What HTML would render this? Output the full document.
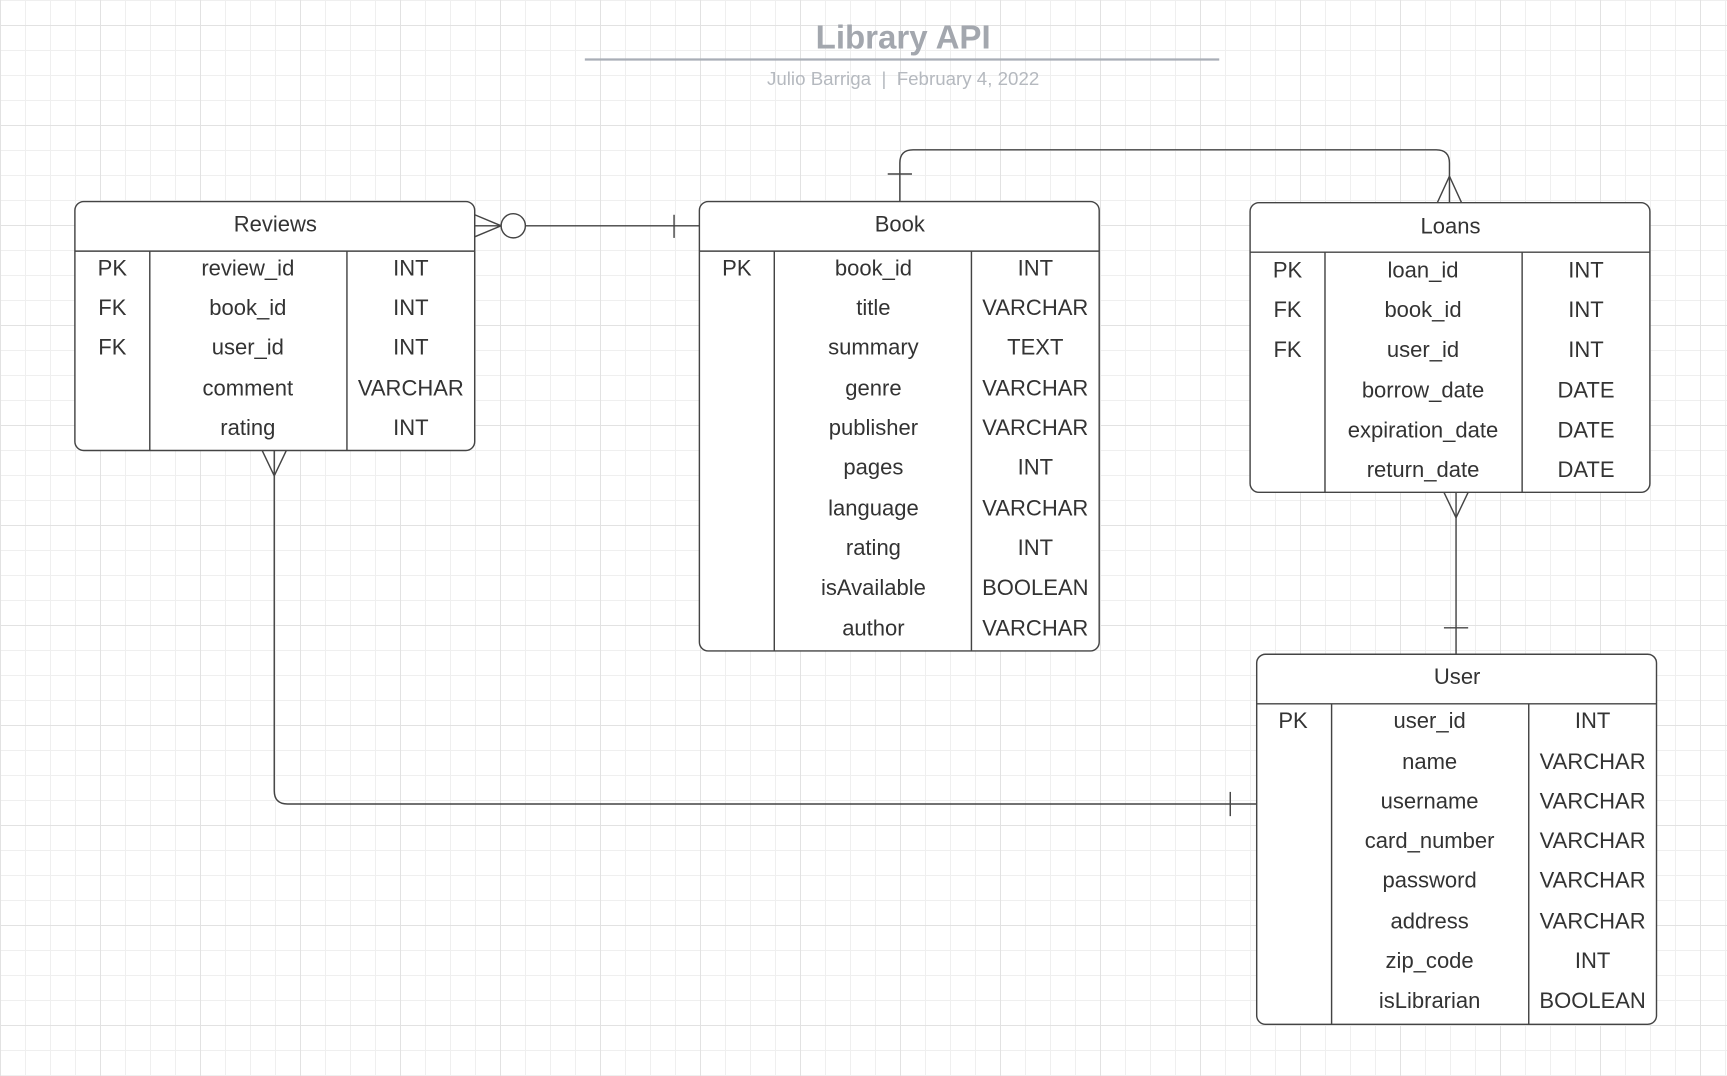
<!DOCTYPE html>
<html><head><meta charset="utf-8"><style>
html,body{margin:0;padding:0;background:#fff;}
svg{display:block;}
text{font-family:"Liberation Sans",Arial,sans-serif;}
</style></head><body>
<svg width="1727" height="1076" viewBox="0 0 1727 1076" xmlns="http://www.w3.org/2000/svg">
<defs>
<pattern id="g" width="25" height="25" patternUnits="userSpaceOnUse"><path d="M0.5 0V25M0 0.5H25" stroke="#efefef" stroke-width="1" fill="none"/></pattern>
<pattern id="G" width="100" height="100" patternUnits="userSpaceOnUse" x="0" y="25"><path d="M0.5 0V100M0 0.5H100" stroke="#e2e2e2" stroke-width="1" fill="none"/></pattern>
</defs>
<rect width="1727" height="1076" fill="#fff"/>
<rect width="1727" height="1076" fill="url(#g)"/>
<rect width="1727" height="1076" fill="url(#G)"/>
<g transform="scale(1.1014)">
<text x="820" y="44" text-anchor="middle" font-size="30" font-weight="bold" fill="#a3a7ae">Library API</text>
<line x1="531" y1="54" x2="1107" y2="54" stroke="#a9aeb6" stroke-width="2"/>
<text x="820" y="77" text-anchor="middle" font-size="17" fill="#b5b9bf" xml:space="preserve">Julio Barriga  |  February 4, 2022</text>

<g fill="none" stroke="#444" stroke-width="1.3">
<line x1="431" y1="205" x2="455" y2="205"/><path d="M431 195L455 205L431 215"/>
<circle cx="466" cy="205" r="11" fill="#fff"/>
<line x1="477" y1="205" x2="635" y2="205"/><line x1="612" y1="195" x2="612" y2="216"/>
<path d="M817 183V148Q817 136 829 136H1304Q1316 136 1316 148V184"/>
<line x1="806" y1="158" x2="828" y2="158"/><path d="M1305 184L1316 160L1327 184"/>
<line x1="1322" y1="447" x2="1322" y2="594"/><path d="M1311 447L1322 470L1333 447"/>
<line x1="1311" y1="570" x2="1333" y2="570"/>
<path d="M249 409V718Q249 730 261 730H1141"/><path d="M238 409L249 432L260 409"/>
<line x1="1117" y1="719" x2="1117" y2="741"/>
</g>

<g font-size="20" fill="#333" text-anchor="middle">
<rect x="68" y="183" width="363" height="226" rx="8" fill="#fff" stroke="#444" stroke-width="1.3"/>
<path d="M68 228H431M136 228V409M315 228V409" stroke="#444" stroke-width="1.3"/>
<text x="250" y="210">Reviews</text>
<text x="102" y="250">PK</text><text x="225" y="250">review_id</text><text x="373" y="250">INT</text>
<text x="102" y="286">FK</text><text x="225" y="286">book_id</text><text x="373" y="286">INT</text>
<text x="102" y="322">FK</text><text x="225" y="322">user_id</text><text x="373" y="322">INT</text>
<text x="225" y="359">comment</text><text x="373" y="359">VARCHAR</text>
<text x="225" y="395">rating</text><text x="373" y="395">INT</text>

<rect x="635" y="183" width="363" height="408" rx="8" fill="#fff" stroke="#444" stroke-width="1.3"/>
<path d="M635 228H998M703 228V591M882 228V591" stroke="#444" stroke-width="1.3"/>
<text x="817" y="210">Book</text>
<text x="669" y="250">PK</text>
<text x="793" y="250">book_id</text><text x="940" y="250">INT</text>
<text x="793" y="286">title</text><text x="940" y="286">VARCHAR</text>
<text x="793" y="322">summary</text><text x="940" y="322">TEXT</text>
<text x="793" y="359">genre</text><text x="940" y="359">VARCHAR</text>
<text x="793" y="395">publisher</text><text x="940" y="395">VARCHAR</text>
<text x="793" y="431">pages</text><text x="940" y="431">INT</text>
<text x="793" y="468">language</text><text x="940" y="468">VARCHAR</text>
<text x="793" y="504">rating</text><text x="940" y="504">INT</text>
<text x="793" y="540">isAvailable</text><text x="940" y="540">BOOLEAN</text>
<text x="793" y="577">author</text><text x="940" y="577">VARCHAR</text>

<rect x="1135" y="184" width="363" height="263" rx="8" fill="#fff" stroke="#444" stroke-width="1.3"/>
<path d="M1135 229H1498M1203 229V447M1382 229V447" stroke="#444" stroke-width="1.3"/>
<text x="1317" y="212">Loans</text>
<text x="1169" y="252">PK</text><text x="1292" y="252">loan_id</text><text x="1440" y="252">INT</text>
<text x="1169" y="288">FK</text><text x="1292" y="288">book_id</text><text x="1440" y="288">INT</text>
<text x="1169" y="324">FK</text><text x="1292" y="324">user_id</text><text x="1440" y="324">INT</text>
<text x="1292" y="361">borrow_date</text><text x="1440" y="361">DATE</text>
<text x="1292" y="397">expiration_date</text><text x="1440" y="397">DATE</text>
<text x="1292" y="433">return_date</text><text x="1440" y="433">DATE</text>

<rect x="1141" y="594" width="363" height="336" rx="8" fill="#fff" stroke="#444" stroke-width="1.3"/>
<path d="M1141 639H1504M1209 639V930M1388 639V930" stroke="#444" stroke-width="1.3"/>
<text x="1323" y="621">User</text>
<text x="1174" y="661">PK</text>
<text x="1298" y="661">user_id</text><text x="1446" y="661">INT</text>
<text x="1298" y="698">name</text><text x="1446" y="698">VARCHAR</text>
<text x="1298" y="734">username</text><text x="1446" y="734">VARCHAR</text>
<text x="1298" y="770">card_number</text><text x="1446" y="770">VARCHAR</text>
<text x="1298" y="806">password</text><text x="1446" y="806">VARCHAR</text>
<text x="1298" y="843">address</text><text x="1446" y="843">VARCHAR</text>
<text x="1298" y="879">zip_code</text><text x="1446" y="879">INT</text>
<text x="1298" y="915">isLibrarian</text><text x="1446" y="915">BOOLEAN</text>
</g>
</g>
</svg>
</body></html>
